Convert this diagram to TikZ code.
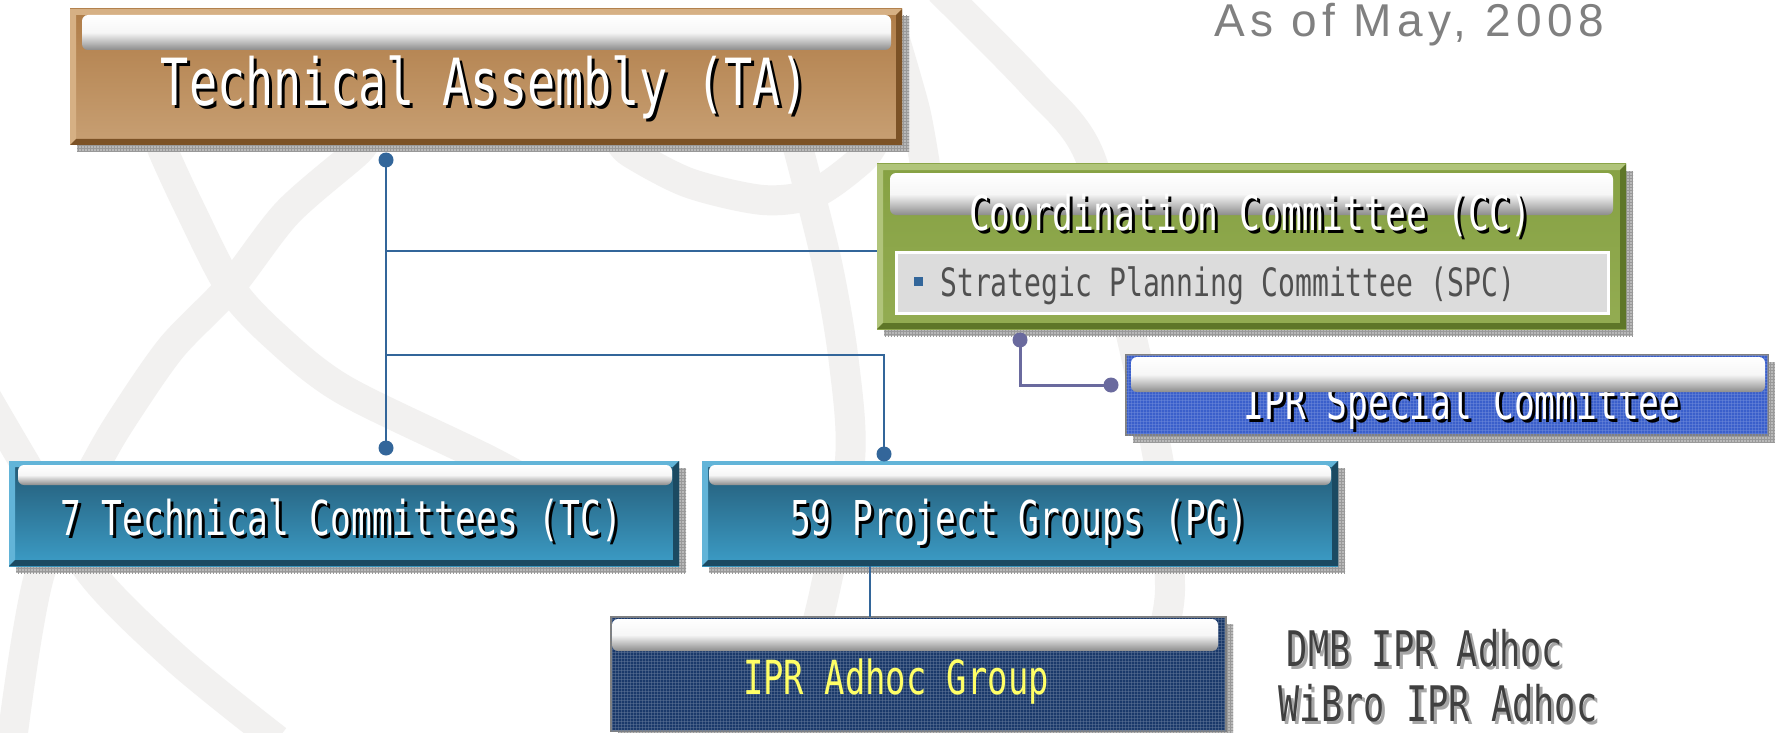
\documentclass[tikz,border=0pt]{standalone}
\usepackage{fontspec}
\newfontfamily\boxfont[FakeStretch=0.72]{DejaVu Sans Mono}
\newfontfamily\datefont[LetterSpace=12]{Liberation Sans}
\usetikzlibrary{calc,patterns,positioning}

\definecolor{tatop}{HTML}{AF7C47}
\definecolor{tabot}{HTML}{C8A074}
\definecolor{talight}{HTML}{D6B084}
\definecolor{tadark}{HTML}{7C5226}
\definecolor{cctop}{HTML}{86A143}
\definecolor{ccbot}{HTML}{93AC52}
\definecolor{cclight}{HTML}{B0C47A}
\definecolor{ccdark}{HTML}{5E7628}
\definecolor{tctop}{HTML}{235873}
\definecolor{tcbot}{HTML}{3C9DC7}
\definecolor{tclight}{HTML}{62B4D8}
\definecolor{tcdark}{HTML}{1B4A62}
\definecolor{iprblue}{HTML}{3A5FCB}
\definecolor{adhocnavy}{HTML}{1A396A}
\definecolor{linkblue}{HTML}{33669A}
\definecolor{linkpurple}{HTML}{6A6A9E}
\definecolor{globegray}{HTML}{F2F1F0}
\definecolor{spcgray}{HTML}{DCDCDC}
\definecolor{spctext}{HTML}{505050}
\definecolor{adhocyellow}{HTML}{FFFF66}
\definecolor{notegray}{HTML}{404040}

\tikzset{
  bevel/.style={rectangle, anchor=north west, inner sep=0pt, outer sep=0pt},
  boxshadow/.style={fill=gray!55},
  shadowgrid/.style={pattern=grid, pattern color=gray!80},
  gloss/.style={rounded corners=6, top color=white, bottom color=gray!90, middle color=white!93!gray},
  link/.style={draw=linkblue, line width=2.5pt},
  joint/.style={circle, fill=linkblue, inner sep=0pt, minimum size=15pt},
  plink/.style={draw=linkpurple, line width=3pt},
  pjoint/.style={circle, fill=linkpurple, inner sep=0pt, minimum size=15pt},
  boxtext/.style={inner sep=0pt, anchor=base, text=white},
  textshade/.style={inner sep=0pt, anchor=base, text=black},
  globe/.style={draw=globegray, line width=30pt},
}

% name, position, size, colour, text
\newcommand{\boxlabel}[5]{%
  \node[textshade, font=\boxfont\fontsize{#3}{#3}\selectfont] at ([shift={(3,3)}]#2) {#5};
  \node[boxtext, text=#4, font=\boxfont\fontsize{#3}{#3}\selectfont] (#1) at (#2) {#5};
}

% name, x, y, width, height, top, bottom, light, dark
\newcommand{\bevelbox}[9]{%
  \fill[boxshadow] (#2+7,#3+7) rectangle ++(#4,#5);
  \fill[shadowgrid] (#2+7,#3+7) rectangle ++(#4,#5);
  \node[bevel, minimum width=#4pt, minimum height=#5pt, top color=#6, bottom color=#7] (#1) at (#2,#3) {};
  \fill[#8] (#1.north west) -- (#1.north east) -- ++(-6,6) -- ([shift={(6,6)}]#1.north west)
    -- ([shift={(6,-6)}]#1.south west) -- (#1.south west) -- cycle;
  \fill[#9] (#1.south east) -- (#1.north east) -- ++(-6,6) -- ([shift={(-6,-6)}]#1.south east)
    -- ([shift={(6,-6)}]#1.south west) -- (#1.south west) -- cycle;
}

\begin{document}
\begin{tikzpicture}[x=1pt,y=-1pt]
  \useasboundingbox (0,0) rectangle (1775,733);
  \fill[white] (0,0) rectangle (1775,733);

  % globe in the background
  \draw[globe] plot[smooth] coordinates {(160,140) (164,153) (189,207) (230,287) (276,337) (344,390) (488,460) (560,500)};
  \draw[globe] plot[smooth] coordinates {(365,140) (356,153) (287,213) (230,287) (172,347) (126,413) (98,460) (40,573) (12,740)};
  \draw[globe] plot[smooth] coordinates {(-15,395) (23,460) (91,573) (178,660) (277,740)};
  \draw[globe] plot[smooth] coordinates {(620,140) (631,153) (689,183) (763,200) (815,193) (861,160) (875,140)};
  \draw[globe] plot[smooth] coordinates {(796,140) (827,263) (844,363) (850,460) (825,590) (810,650)};
  \draw[globe] plot[smooth] coordinates {(940,-10) (1032,83) (1090,157) (1130,330) (1160,470) (1170,590) (1158,650)};
  \draw[globe] plot[smooth] coordinates {(895,40) (915,110) (925,165)};

  \node[anchor=base west, inner sep=0pt, text=gray, font=\datefont\fontsize{46}{46}\selectfont] (date) at (1214,37) {As of May, 2008};

  % boxes
  \bevelbox{ta}{70}{9}{832}{136}{tatop}{tabot}{talight}{tadark}
  \shade[gloss] ([shift={(12,6)}]ta.north west) rectangle ([shift={(-11,41)}]ta.north east);

  \bevelbox{cc}{877}{164}{749}{165}{cctop}{ccbot}{cclight}{ccdark}
  \shade[gloss] ([shift={(13,9)}]cc.north west) rectangle ([shift={(-13,51)}]cc.north east);
  \node[bevel, fill=spcgray, draw=white, line width=3pt, minimum width=712pt, minimum height=61pt] (spc) at (896,252) {};
  \node[rectangle, fill=linkblue, inner sep=0pt, minimum size=9pt] (spcdot) at (918,281) {};

  \fill[boxshadow] (1133,362) rectangle ++(642,80);
  \fill[shadowgrid] (1133,362) rectangle ++(642,80);
  \node[bevel, fill=iprblue, draw=gray, line width=2pt, minimum width=642pt, minimum height=80pt] (ipr) at (1126,355) {};
  \fill[pattern=grid, pattern color=iprblue!70!white, opacity=.45] (ipr.north west) rectangle (ipr.south east);

  \bevelbox{tc}{9}{461}{670}{105}{tctop}{tcbot}{tclight}{tcdark}
  \shade[gloss] ([shift={(9,4)}]tc.north west) rectangle ([shift={(-7,24)}]tc.north east);

  \bevelbox{pg}{702}{461}{636}{105}{tctop}{tcbot}{tclight}{tcdark}
  \shade[gloss] ([shift={(7,4)}]pg.north west) rectangle ([shift={(-7,24)}]pg.north east);

  \fill[boxshadow] (618,624) rectangle ++(615,114);
  \fill[shadowgrid] (618,624) rectangle ++(615,114);
  \node[bevel, fill=adhocnavy, draw=gray, line width=2pt, minimum width=615pt, minimum height=114pt] (adhoc) at (611,617) {};
  \fill[pattern=grid, pattern color=adhocnavy!65!white, opacity=.45] (adhoc.north west) rectangle (adhoc.south east);
  \shade[gloss] ([shift={(1,2)}]adhoc.north west) rectangle ([shift={(-8,34)}]adhoc.north east);

  % connectors
  \node[joint] (jta) at (386,160) {};
  \node[joint] (jtc) at (386,448) {};
  \node[joint] (jpg) at (884,454) {};
  \coordinate (bcc) at (386,251);
  \coordinate (bpg) at (386,355);
  \coordinate (xpg) at (870,0);
  \draw[link] (jta.center) -- (jtc.center);
  \draw[link] (bcc) -- (bcc -| cc.west);
  \draw[link] (bpg) -| (jpg.center);
  \draw[draw=linkblue, line width=2pt] (pg.south -| xpg) -- (adhoc.north -| xpg);
  \node[pjoint] (jcc) at (1020,340) {};
  \node[pjoint] (jipr) at (1111,385) {};
  \draw[plink] (jcc.center) |- (jipr.center);

  % labels
  \boxlabel{talabel}{485,106}{65}{white}{Technical Assembly (TA)}
  \boxlabel{cclabel}{1250,230}{48}{white}{Coordination Committee (CC)}
  \node[anchor=base west, inner sep=0pt, text=spctext, font=\boxfont\fontsize{39}{39}\selectfont] (spclabel) at (940,296) {Strategic Planning Committee (SPC)};
  \boxlabel{iprlabel}{1462,419}{48}{white}{IPR Special Committee}
  \shade[gloss] ([shift={(5,2)}]ipr.north west) rectangle ([shift={(-3,37)}]ipr.north east);
  \boxlabel{tclabel}{341,535}{48}{white}{7 Technical Committees (TC)}
  \boxlabel{pglabel}{1019,535}{48}{white}{59 Project Groups (PG)}
  \node[boxtext, text=adhocyellow, font=\boxfont\fontsize{47}{47}\selectfont] (adhoclabel) at (896,694) {IPR Adhoc Group};
  \node[textshade, text=gray!70, font=\boxfont\fontsize{49}{49}\selectfont] at (1428,669) {DMB IPR Adhoc};
  \node[boxtext, text=notegray, font=\boxfont\fontsize{49}{49}\selectfont] (dmb) at (1425,666) {DMB IPR Adhoc};
  \node[textshade, text=gray!70, font=\boxfont\fontsize{49}{49}\selectfont] at (1441,724) {WiBro IPR Adhoc};
  \node[boxtext, text=notegray, font=\boxfont\fontsize{49}{49}\selectfont] (wibro) at (1438,721) {WiBro IPR Adhoc};
\end{tikzpicture}
\end{document}
